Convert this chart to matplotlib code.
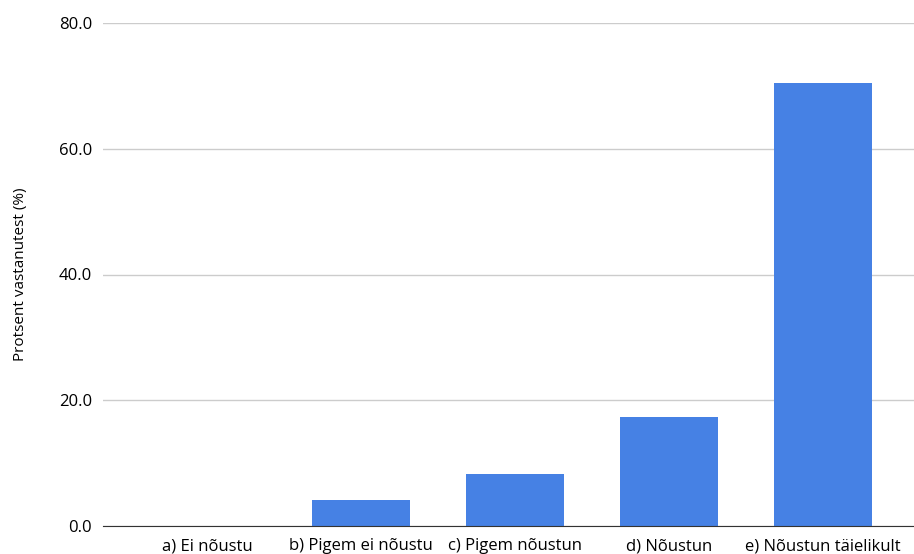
import matplotlib.pyplot as plt

# survey answers
categories = ["a) Ei nõustu", "b) Pigem ei nõustu", "c) Pigem nõustun",
              "d) Nõustun", "e) Nõustun täielikult"]
percent = [0.0, 4.2, 8.3, 17.4, 70.4]
yticks = [0, 20, 40, 60, 80]

plt.rcParams['font.family'] = ['Open Sans', 'DejaVu Sans']

fig = plt.figure(figsize=(9.14, 5.54), dpi=100)
ax = fig.add_axes([103/914, 28/554, 811/914, 503/554])

x = range(len(categories))
ax.bar(x, percent, width=0.636, color='#4681E4', zorder=3)

ax.set_xlim(-0.675, 4.59)
ax.set_ylim(0, 80)
ax.set_yticks(yticks)
ax.set_yticklabels(["%.1f" % v for v in yticks], fontsize=12)
ax.set_xticks(list(x))
ax.set_xticklabels(categories, fontsize=12)
ax.set_ylabel("Protsent vastanutest (%)", fontsize=11, labelpad=22)

ax.grid(axis='y', color='#cccccc', linewidth=1, zorder=0)
for s in ['top', 'right', 'left']:
    ax.spines[s].set_visible(False)
ax.spines['bottom'].set_color('#333333')
ax.spines['bottom'].set_zorder(4)
ax.tick_params(axis='both', length=0, pad=8)
ax.tick_params(axis='x', pad=9)

fig.savefig("out.png", dpi=100)
